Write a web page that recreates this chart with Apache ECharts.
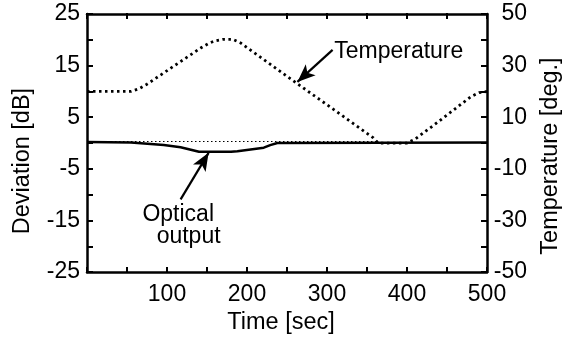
<!DOCTYPE html>
<html>
<head>
<meta charset="utf-8">
<script src="https://cdn.jsdelivr.net/npm/echarts@6/dist/echarts.min.js"></script>
<style>
  html, body { margin: 0; padding: 0; background: #fff; }
  #chart { width: 573px; height: 340px; }
</style>
</head>
<body>
<div id="chart"></div>
<script>
// axis ranges / tick labels
const timeTicks = [0, 100, 200, 300, 400, 500];
const devTicks = [-25, -15, -5, 5, 15, 25];
const tempTicks = [-50, -30, -10, 10, 30, 50];

// temperature (deg) vs time (sec)
const tempTime = [0, 55, 65, 75, 142, 152, 160, 170, 182, 192, 263, 358, 364, 400, 410, 438, 480, 490, 500];
const tempDeg = [20, 20, 21, 22.8, 36.8, 38.6, 39.6, 40.2, 40.2, 38.8, 23, 2, 0, 0, 1.5, 8, 18, 19.5, 20];

// optical output deviation (dB) vs time (sec)
const opticTime = [0, 55, 96, 117, 140, 180, 188, 221, 229, 238, 500];
const opticDev = [0.2, 0.1, -0.4, -0.8, -1.7, -1.7, -1.6, -0.9, -0.4, 0, 0.1];

// 0 dB reference (thin dotted)
const refTime = [0, 362];
const refDev = [0.3, 0.3];

const font = 'Liberation Sans, Arial, sans-serif';
const black = '#000';
const plotW = 400;
const plotH = 259;

const zip = (xs, ys) => xs.map((x, i) => [x, ys[i]]);

const chart = echarts.init(document.getElementById('chart'));

const axisLine = { show: true, onZero: false, lineStyle: { color: black, width: 2.5 } };
const tick = { show: true, length: 6, lineStyle: { color: black, width: 2 } };
const minor = { show: true, splitNumber: 2, length: 6, lineStyle: { color: black, width: 2 } };
const labelStyle = { color: black, fontSize: 23, fontFamily: font };
const nameStyle = { color: black, fontSize: 23.5, fontFamily: font };

// helper axis placed on the opposite border so its outward ticks point into the plot
function tickAxis(base, position, offset) {
  return Object.assign({}, base, {
    position: position,
    offset: offset,
    name: '',
    axisLine: { show: false, onZero: false },
    axisTick: tick,
    minorTick: minor,
    splitLine: { show: false },
    axisLabel: { show: false }
  });
}

const timeBase = { type: 'value', min: timeTicks[0], max: timeTicks[timeTicks.length - 1], interval: 100 };
const devBase = { type: 'value', min: devTicks[0], max: devTicks[devTicks.length - 1], interval: 10 };
const tempBase = { type: 'value', min: tempTicks[0], max: tempTicks[tempTicks.length - 1], interval: 20 };

const option = {
  animation: false,
  grid: { left: 87, right: 86, top: 14, bottom: 67 },
  xAxis: [
    Object.assign({}, timeBase, {
      position: 'bottom',
      name: 'Time [sec]',
      nameLocation: 'middle',
      nameGap: 37,
      nameTextStyle: Object.assign({ padding: [0, 12, 0, 0] }, nameStyle),
      axisLine: axisLine,
      axisTick: { show: false },
      splitLine: { show: false },
      axisLabel: Object.assign({ margin: 11, formatter: v => (v === 0 ? '' : v) }, labelStyle)
    }),
    Object.assign({}, timeBase, {
      position: 'top',
      axisLine: axisLine,
      axisTick: { show: false },
      splitLine: { show: false },
      axisLabel: { show: false }
    }),
    tickAxis(timeBase, 'top', -plotH),
    tickAxis(timeBase, 'bottom', -plotH)
  ],
  yAxis: [
    Object.assign({}, devBase, {
      position: 'left',
      name: 'Deviation [dB]',
      nameLocation: 'middle',
      nameGap: 52,
      nameTextStyle: Object.assign({ padding: [0, 36, 0, 0] }, nameStyle),
      axisLine: axisLine,
      axisTick: { show: false },
      splitLine: { show: false },
      axisLabel: Object.assign({ margin: 7 }, labelStyle)
    }),
    Object.assign({}, tempBase, {
      position: 'right',
      name: 'Temperature [deg.]',
      nameLocation: 'middle',
      nameGap: 52,
      nameTextStyle: Object.assign({ padding: [0, 26, 0, 0] }, nameStyle),
      axisLine: axisLine,
      axisTick: { show: false },
      splitLine: { show: false },
      axisLabel: Object.assign({ margin: 40, align: 'right' }, labelStyle)
    }),
    tickAxis(devBase, 'right', -plotW),
    tickAxis(tempBase, 'left', -plotW)
  ],
  series: [
    {
      name: 'reference',
      type: 'line',
      symbol: 'none',
      silent: true,
      data: zip(refTime, refDev),
      lineStyle: { color: black, width: 1.2, type: [1.5, 2.5] }
    },
    {
      name: 'Temperature',
      type: 'line',
      yAxisIndex: 1,
      symbol: 'none',
      silent: true,
      data: zip(tempTime, tempDeg),
      lineStyle: { color: black, width: 2.8, type: [2.5, 3.5] },
      markLine: {
        silent: true,
        symbol: ['none', 'arrow'],
        symbolSize: [11, 18],
        label: { show: false },
        lineStyle: { color: black, width: 2.2, type: 'solid' },
        data: [[{ coord: [307, 36.1] }, { coord: [263, 23.7] }]]
      },
      markPoint: {
        silent: true,
        symbolSize: 0,
        label: { show: true, position: 'right', distance: 0, color: black, fontSize: 23, fontFamily: font },
        data: [{ coord: [309, 35.3], value: 'Temperature', label: { formatter: 'Temperature' } }]
      }
    },
    {
      name: 'Optical output',
      type: 'line',
      symbol: 'none',
      silent: true,
      data: zip(opticTime, opticDev),
      lineStyle: { color: black, width: 2.5 },
      markLine: {
        silent: true,
        symbol: ['none', 'arrow'],
        symbolSize: [11, 18],
        label: { show: false },
        lineStyle: { color: black, width: 2.2, type: 'solid' },
        data: [[{ coord: [117, -10.9] }, { coord: [152, -1.9] }]]
      },
      markPoint: {
        silent: true,
        symbolSize: 0,
        label: { show: true, position: 'inside', color: black, fontSize: 23, fontFamily: font },
        data: [
          { coord: [114, -13.9], label: { formatter: 'Optical' } },
          { coord: [127, -18.1], label: { formatter: 'output' } }
        ]
      }
    }
  ]
};

chart.setOption(option);
</script>
</body>
</html>
